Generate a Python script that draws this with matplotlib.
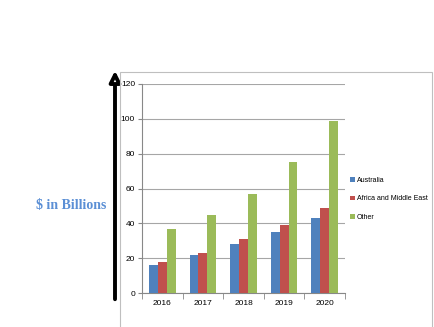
import matplotlib.pyplot as plt
import matplotlib.patches as patches
import numpy as np

years = ['2016', '2017', '2018', '2019', '2020']
australia = [16, 22, 28, 35, 43]
africa_me = [18, 23, 31, 39, 49]
other = [37, 45, 57, 75, 99]
series_names = ['Australia', 'Africa and Middle East', 'Other']
colors = ['#4F81BD', '#C0504D', '#9BBB59']

W, H = 434, 327
fig = plt.figure(figsize=(W / 100, H / 100), dpi=100)

# chart area border
fig.patches.append(patches.Rectangle((120 / W, -0.01), (432 - 120) / W, 1 - 72 / H + 0.01,
                                     transform=fig.transFigure, fill=False,
                                     edgecolor='#BFBFBF', lw=0.8))

ax = fig.add_axes([142 / W, 1 - 293 / H, (345 - 142) / W, (293 - 84) / H])
x = np.arange(len(years))
bw = 0.22
for i, (vals, name) in enumerate(zip([australia, africa_me, other], series_names)):
    ax.bar(x + (i - 1) * bw, vals, bw, color=colors[i], label=name, zorder=3)

ax.set_ylim(0, 120)
ax.set_xlim(-0.5, 4.5)
ax.set_yticks(range(0, 121, 20))
ax.yaxis.grid(True, color='#A6A6A6', lw=0.8, zorder=0)
ax.set_xticks(x)
ax.set_xticklabels(years)
ax.set_xticks(np.arange(-0.5, 5, 1), minor=True)
ax.tick_params(axis='x', which='major', length=0, labelsize=6, pad=5)
ax.tick_params(axis='x', which='minor', length=4, color='#888888')
ax.tick_params(axis='y', length=3, color='#888888', labelsize=6, pad=2)
for s in ['top', 'right']:
    ax.spines[s].set_visible(False)
for s in ['left', 'bottom']:
    ax.spines[s].set_color('#888888')
    ax.spines[s].set_linewidth(0.8)
for lbl in ax.get_xticklabels() + ax.get_yticklabels():
    lbl.set_fontfamily('Liberation Sans')

ax.legend(loc='center left', bbox_to_anchor=(1.0, 0.45), frameon=False,
          prop={'family': 'Liberation Sans', 'size': 5}, handlelength=0.7,
          handleheight=0.7, handletextpad=0.3, labelspacing=1.6,
          borderaxespad=0.3)

# big arrow on the left
ax_arrow = fig.add_axes([0, 0, 1, 1], facecolor='none')
ax_arrow.set_xlim(0, W)
ax_arrow.set_ylim(H, 0)
ax_arrow.axis('off')
ax_arrow.annotate('', xy=(115, 68), xytext=(115, 302),
                  arrowprops=dict(arrowstyle='-|>', lw=2.8, color='black',
                                  fc='white', mutation_scale=16))
ax_arrow.text(71, 205, '$ in Billions', color='#5B8FD5', fontsize=10,
              fontweight='bold', family='Liberation Serif', ha='center', va='center')

fig.savefig('out.png', dpi=100)
